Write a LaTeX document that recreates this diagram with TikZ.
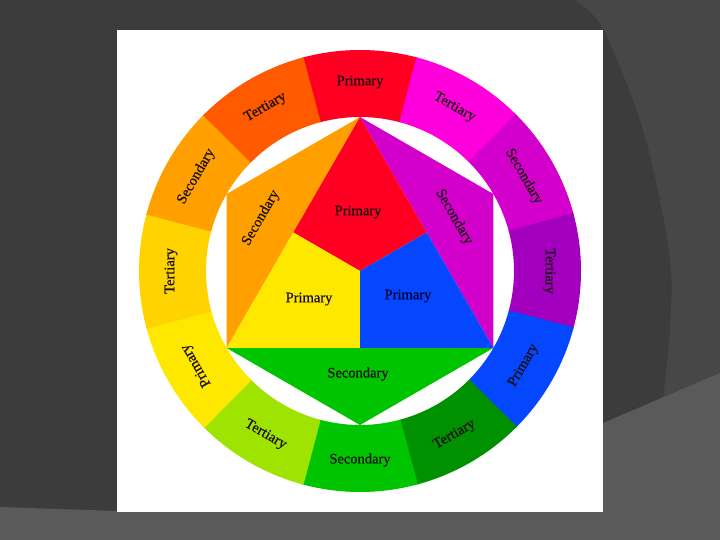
\documentclass[tikz,border=0pt]{standalone}
\usepackage{fontspec}
\setmainfont{Liberation Serif}
\newfontfamily\lblfont[FakeBold=0.5]{Liberation Serif}
\definecolor{bgdark}{HTML}{3C3C3C}
\definecolor{bgmid}{HTML}{474747}
\definecolor{bglight}{HTML}{5A5A5A}
\definecolor{cR}{HTML}{FF0022}
\definecolor{cM}{HTML}{FF00DD}
\definecolor{cP}{HTML}{D200CA}
\definecolor{cV}{HTML}{A200BE}
\definecolor{cB}{HTML}{0546FF}
\definecolor{cDG}{HTML}{009100}
\definecolor{cG}{HTML}{00C400}
\definecolor{cYG}{HTML}{9EE400}
\definecolor{cY}{HTML}{FFE800}
\definecolor{cYO}{HTML}{FFD300}
\definecolor{cO}{HTML}{FFA000}
\definecolor{cRO}{HTML}{FF5A00}
\definecolor{txt}{HTML}{1A1010}
\begin{document}
\begin{tikzpicture}[x=1pt,y=1pt,
  lbl/.style={font=\lblfont\fontsize{14.5}{17}\selectfont, text=txt, inner sep=0pt}]
\useasboundingbox (0,0) rectangle (720,540);
% background
\fill[bgdark] (0,0) rectangle (720,540);
\fill[bgmid] plot[smooth] coordinates {(575,540) (603,512) (640,420) (660,340) (671,270) (670,210) (663,140) (658,100)} -- (720,100) -- (720,540) -- cycle;
\fill[bglight] (0,0) -- (0,33) -- (117,29) -- (603,117) -- (720,167) -- (720,0) -- cycle;
\fill[white] (117,28) rectangle (603,510);
\begin{scope}[shift={(360,269)}]
% outer ring
\foreach \a/\c/\t/\r [count=\i] in {90/cR/Primary/0, 60/cM/Tertiary/-30, 30/cP/Secondary/-60, 0/cV/Tertiary/-90,
  -30/cB/Primary/60, -60/cDG/Tertiary/30, -90/cG/Secondary/0, -120/cYG/Tertiary/-30,
  -150/cY/Primary/120, 180/cYO/Tertiary/90, 150/cO/Secondary/60, 120/cRO/Tertiary/30}{
  \fill[\c] (\a-15.2:154) -- (\a-15.2:221) arc[start angle=\a-15.2, end angle=\a+15.2, radius=221]
     -- (\a+15.2:154) arc[start angle=\a+15.2, end angle=\a-15.2, radius=154] -- cycle;
  \node[lbl, rotate=\r] (ring\i) at (\a:189) {\t};
}
% inner hexagon
\coordinate (T) at (90:154);
\coordinate (UL) at (150:154);
\coordinate (LL) at (210:154);
\coordinate (B) at (270:154);
\coordinate (LR) at (330:154);
\coordinate (UR) at (30:154);
\coordinate (O) at (0,0);
\coordinate (ML) at (-66.68,38.5);
\coordinate (MR) at (66.68,38.5);
\coordinate (MB) at (0,-77);
\fill[cO] (T) -- (UL) -- (LL) -- cycle;
\fill[cP] (T) -- (UR) -- (LR) -- cycle;
\fill[cG] (LL) -- (B) -- (LR) -- cycle;
\fill[cR] (T) -- (MR) -- (O) -- (ML) -- cycle;
\fill[cY] (ML) -- (O) -- (MB) -- (LL) -- cycle;
\fill[cB] (O) -- (MR) -- (LR) -- (MB) -- cycle;
\node[lbl] (pr) at (-2,59) {Primary};
\node[lbl] (py) at (-51,-28) {Primary};
\node[lbl, text=black!80!blue] (pb) at (48,-25) {Primary};
\node[lbl, rotate=60] (so) at (-99,53) {Secondary};
\node[lbl, rotate=-60] (sp) at (94,54) {Secondary};
\node[lbl] (sg) at (-2,-103) {Secondary};
\end{scope}
\end{tikzpicture}
\end{document}
